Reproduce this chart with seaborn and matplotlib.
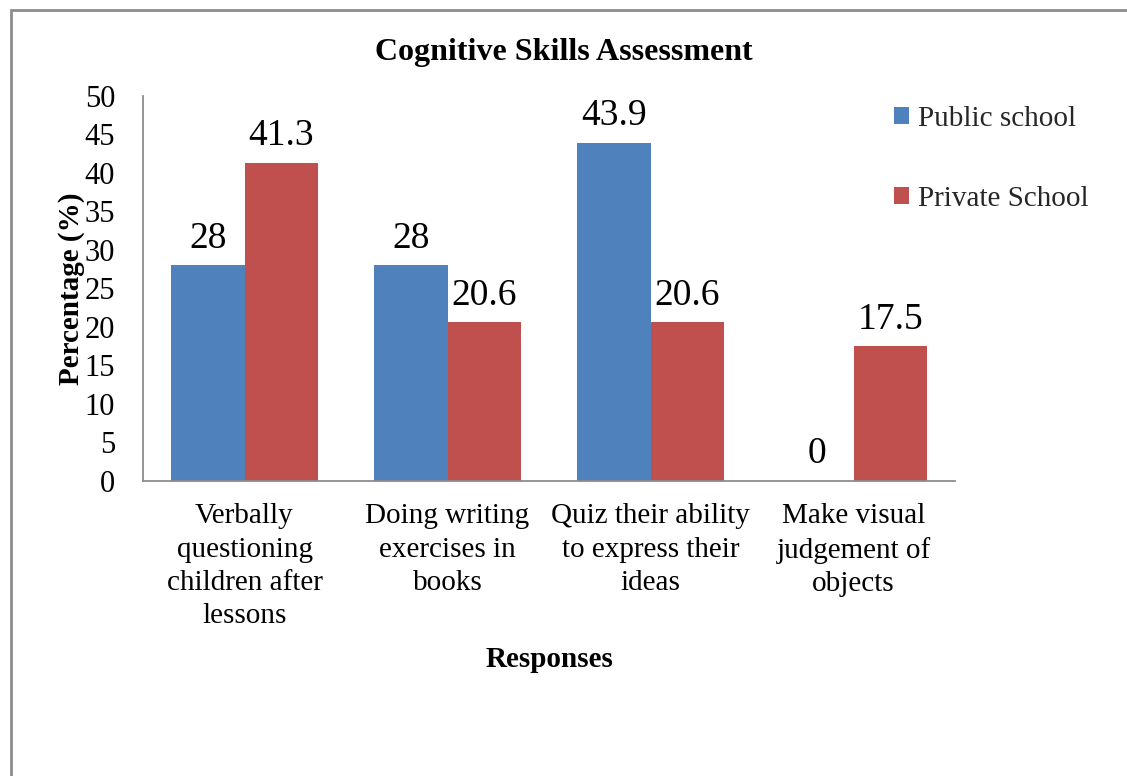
import matplotlib
matplotlib.use("Agg")
import matplotlib.pyplot as plt
import seaborn as sns
import pandas as pd
from matplotlib.patches import Rectangle

categories = ["Verbally\nquestioning\nchildren after\nlessons",
              "Doing writing\nexercises in\nbooks",
              "Quiz their ability\nto express their\nideas",
              "Make visual\njudgement of\nobjects"]
series_names = ["Public school", "Private School"]
public_vals = [28, 28, 43.9, 0]
private_vals = [41.3, 20.6, 20.6, 17.5]
yticks = [0, 5, 10, 15, 20, 25, 30, 35, 40, 45, 50]

df = pd.DataFrame({
    "Response": categories * 2,
    "School": [series_names[0]] * 4 + [series_names[1]] * 4,
    "Value": public_vals + private_vals,
})

sns.set_theme(style="white")
plt.rcParams["font.family"] = ["Liberation Serif", "DejaVu Serif"]

fig = plt.figure(figsize=(11.27, 7.76), dpi=100)
ax = fig.add_axes([0.1269, 0.3802, 0.7205, 0.4961])

palette = {"Public school": "#4F81BD", "Private School": "#C0504D"}
sns.barplot(data=df, x="Response", y="Value", hue="School", palette=palette,
            width=0.725, saturation=1, ax=ax, order=categories,
            hue_order=series_names, edgecolor="none")

for cont in ax.containers:
    ax.bar_label(cont, labels=[f"{v:g}" for v in cont.datavalues],
                 padding=7, fontsize=27, color="black")

ax.set_ylim(0, 50)
ax.set_yticks(yticks)
ax.set_xlim(-0.5, 3.5)
ax.tick_params(axis="y", length=0, pad=20, labelsize=22, colors="black")
ax.tick_params(axis="x", length=0, pad=16, labelsize=21, colors="black")
for lbl in ax.get_xticklabels():
    lbl.set_linespacing(1.37)

for s in ["top", "right"]:
    ax.spines[s].set_visible(False)
for s in ["left", "bottom"]:
    ax.spines[s].set_color("#8c8c8c")
    ax.spines[s].set_linewidth(1.3)

ax.set_xlabel("Responses", fontsize=21, fontweight="bold", labelpad=12, color="black")
ax.set_ylabel("Percentage (%)", fontsize=21, fontweight="bold", labelpad=0, color="black")

fig.text(0.5, 0.932, "Cognitive Skills Assessment", ha="center", va="center",
         fontsize=23, fontweight="bold", color="black")

leg = ax.legend(loc="upper left", bbox_to_anchor=(0.911, 1.005), frameon=False,
                fontsize=21, handlelength=0.5, handleheight=0.5,
                handletextpad=0.3, labelspacing=1.85, borderaxespad=0)

fig.patches.append(Rectangle((11 / 1127, -0.1), 1.2, 1.1 - 10 / 776,
                             transform=fig.transFigure, fill=False,
                             edgecolor="#8c8c8c", linewidth=2, zorder=0))

fig.savefig("out.png", dpi=100)
